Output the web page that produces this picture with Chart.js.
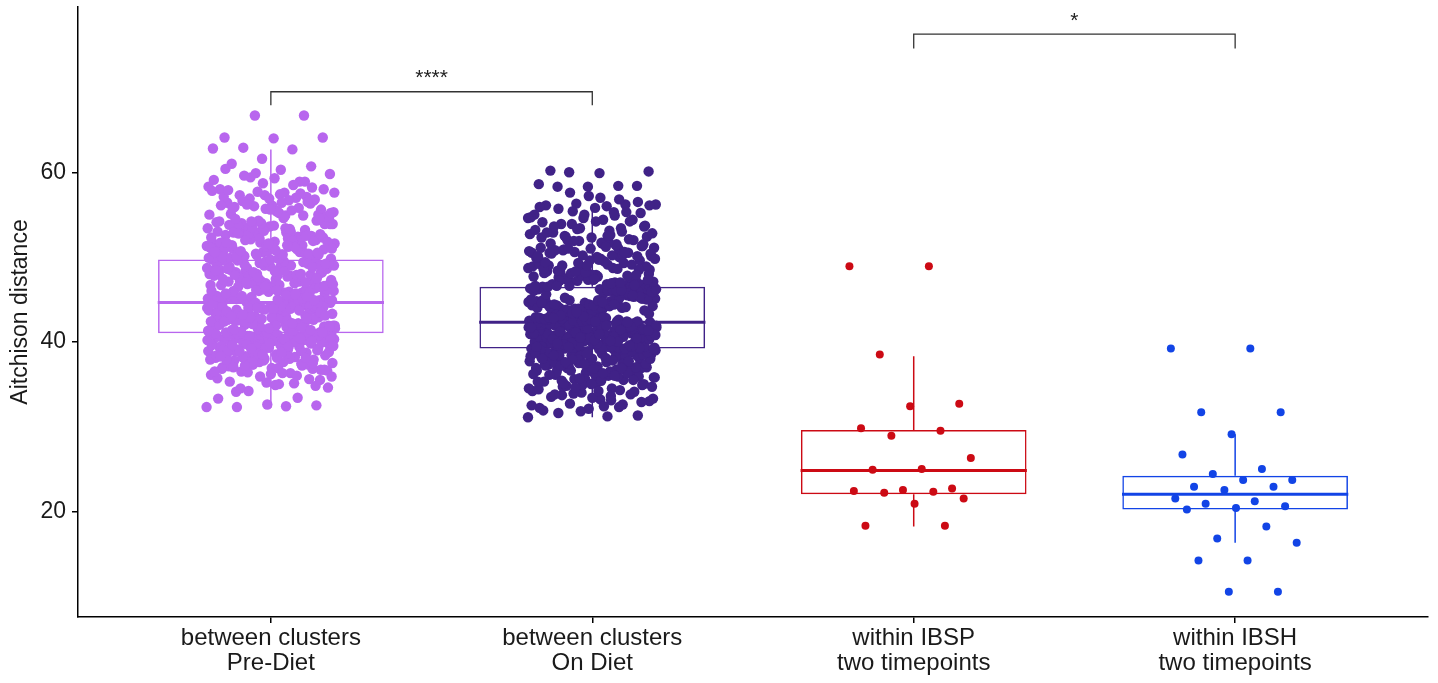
<!DOCTYPE html>
<html>
<head>
<meta charset="utf-8">
<script src="https://cdn.jsdelivr.net/npm/chart.js@4.4.1/dist/chart.umd.min.js"></script>
<style>
  html, body { margin: 0; background: #fff; }
  #wrap { width: 1438px; height: 683px; }
</style>
</head>
<body>
<div id="wrap"><canvas id="chart"></canvas></div>
<script>
// categories (two-line tick labels)
const categories = [
  ["between clusters", "Pre-Diet"],
  ["between clusters", "On Diet"],
  ["within IBSP", "two timepoints"],
  ["within IBSH", "two timepoints"]
];

// Aitchison distances
const preDiet = [
  32.3, 32.4, 32.3, 32.5, 32.6, 33.3, 33.4, 34.2, 34.6, 35.0, 35.3, 35.6, 35.9, 36.1,
  36.3, 36.5, 36.7, 36.9, 37.0, 37.2, 37.3, 37.5, 37.6, 37.8, 37.9, 38.0, 38.1, 38.2, 38.3, 38.4,
  38.5, 38.6, 38.7, 38.8, 38.9, 39.0, 39.1, 39.2, 39.3, 39.3, 39.4, 39.5, 39.6, 39.6, 39.7, 39.8, 39.9, 39.9, 40.0, 40.0,
  40.1, 40.1, 40.2, 40.2, 40.3, 40.3, 40.4, 40.4, 40.5, 40.5, 40.6, 40.6, 40.7, 40.7, 40.8, 40.8, 40.9, 40.9, 41.0, 41.0,
  41.0, 41.1, 40.2, 39.5, 38.9, 40.6, 40.8, 39.2, 37.4, 36.8,
  41.2, 41.5, 41.3, 42.0, 41.8, 42.6, 41.1, 43.1, 42.3, 44.0, 41.7, 42.9, 43.6, 41.4, 44.5, 42.2, 43.3, 41.9, 44.2, 42.7,
  43.8, 41.6, 42.4, 44.6, 43.0, 41.2, 42.8, 43.5, 44.3, 42.1, 41.9, 43.9, 42.5, 44.1, 41.3, 43.2, 42.0, 44.7, 41.7, 43.4,
  42.6, 44.4, 41.5, 43.7, 42.3, 41.1, 42.9, 44.0, 43.1, 41.8, 42.2, 44.6, 43.6, 41.4, 42.7, 43.9, 41.6, 44.2, 42.4, 43.3,
  41.0, 42.8, 44.5, 43.0, 41.9, 42.1, 43.8, 44.3, 41.3, 42.5,
  45.0, 47.2, 44.8, 46.1, 48.9, 45.5, 49.3, 46.7, 47.8, 45.2, 48.1, 46.4, 49.6, 45.8, 47.5, 44.9, 48.6, 46.0, 47.0, 49.0,
  45.3, 46.9, 48.3, 45.7, 47.4, 49.5, 46.2, 48.0, 45.1, 47.7, 46.5, 49.2, 45.9, 48.5, 47.1, 44.8, 46.8, 48.8, 45.4, 47.9,
  46.3, 49.7, 45.6, 47.3, 48.2, 46.6, 45.0, 49.4, 47.6, 46.0, 48.4, 45.2, 47.0, 46.9, 49.1, 45.7, 48.7, 46.2, 47.8, 45.5,
  49.6, 46.4, 48.0, 45.9, 47.2, 44.9, 48.9, 46.7, 47.5, 45.3,
  49.8, 50.3, 51.0, 49.9, 50.6, 51.5, 52.1, 50.1, 50.9, 51.8, 52.6, 53.2, 50.4, 51.3, 52.9, 53.7, 54.3, 50.7, 51.1, 52.4,
  53.5, 54.8, 55.2, 49.9, 50.2, 51.7, 52.3, 53.0, 54.0, 55.6, 56.1, 50.5, 51.4, 52.8, 53.9, 54.6, 55.9, 56.7, 57.3, 50.0,
  51.9, 53.3, 54.4, 55.4, 56.4, 57.1, 57.7, 58.3, 52.2, 53.6, 55.0, 56.9, 58.0, 58.9, 59.4, 59.8, 60.3, 61.0, 60.7, 61.6,
  62.8, 62.7, 62.9, 64.1, 64.0, 64.1, 66.7, 66.7, 57.6, 54.9,
  34.1, 34.8, 35.2, 35.7, 36.0, 36.4, 36.6, 36.9, 37.1, 37.3, 37.6, 37.9, 38.0, 34.5, 35.5, 36.2, 36.8, 37.4, 37.7, 35.9,
  36.3, 37.0, 37.5, 37.8, 36.5, 35.1, 37.2, 36.7, 34.9, 37.9,
  38.1, 39.4, 40.2, 38.6, 40.9, 39.0, 40.5, 38.3, 39.8, 40.7, 38.8, 40.0, 39.2, 40.4, 38.5, 39.6, 40.8, 38.2, 39.9, 40.1,
  39.1, 40.6, 38.7, 39.5, 40.3, 38.9, 40.9, 39.3, 38.4, 40.0, 39.7, 40.5, 38.1, 39.0, 40.7, 38.6, 40.2, 39.4, 38.9, 40.8,
  39.8, 38.3, 40.4, 39.2, 40.6, 38.7, 39.6, 40.1, 38.5, 40.9,
  41.3, 42.8, 44.1, 41.9, 43.4, 42.2, 44.6, 41.6, 43.0, 42.5, 44.3, 41.1, 43.7, 42.0, 44.0, 41.4, 42.7, 43.2, 44.5, 41.8,
  42.4, 43.9, 41.2, 43.5, 42.9, 44.2, 41.7, 42.1, 43.3, 44.7, 41.5, 42.6, 43.8, 41.0, 44.4, 42.3, 43.1, 41.9, 43.6, 42.8,
  44.0, 41.3, 42.5, 43.4, 44.6, 41.6, 42.0, 43.7, 42.9, 41.8, 44.2, 43.0, 41.4, 42.7, 44.5, 42.2, 43.2, 41.1, 43.9, 42.4,
  45.1, 47.4, 49.0, 45.8, 48.2, 46.3, 49.5, 45.4, 47.9, 46.8, 48.6, 45.0, 47.1, 49.2, 46.0, 48.4, 45.6, 47.6, 46.5, 49.7,
  45.2, 48.0, 46.9, 47.3, 49.4, 45.9, 48.8, 46.2, 47.8, 45.3, 49.1, 46.6, 48.3, 45.7, 47.0, 46.1, 48.7, 45.5, 49.6, 47.5,
  46.4, 48.1, 45.0, 47.7, 49.3, 46.7, 48.5, 45.8, 47.2, 46.0, 49.0, 45.4, 48.9, 46.3, 47.4, 45.1, 48.2, 46.8, 49.5, 47.9,
  44.9, 46.5, 48.4, 45.6, 47.0, 49.2, 46.1, 48.6, 45.3, 47.6,
  49.9, 51.2, 52.8, 50.3, 53.6, 51.7, 50.6, 52.1, 53.9, 50.0, 51.4, 52.5, 53.2, 50.8, 51.9, 50.2, 52.3, 53.7, 51.0, 50.5,
  52.9, 51.6, 53.4, 50.1, 52.0, 51.3, 53.0, 50.9, 52.6, 51.8, 49.8, 53.8, 50.4, 52.2, 51.1, 53.3, 50.7, 52.7, 51.5, 50.0,
  52.4, 53.5, 51.0, 50.3, 52.9, 51.9, 53.1, 50.6, 51.2, 52.0, 53.9, 50.8, 51.7, 52.5, 50.2, 53.4, 51.4, 52.8, 50.5, 51.6,
  54.2, 55.8, 56.9, 54.7, 57.4, 55.1, 56.3, 54.0, 57.8, 55.5, 56.6, 54.4, 55.9, 57.1, 54.9, 56.0, 55.3, 57.6, 54.5, 56.8,
  55.7, 54.1, 57.0, 56.2, 54.8, 55.4, 57.9, 56.5, 54.3, 55.0, 56.7, 57.3, 54.6, 55.6, 56.1, 57.5, 54.2, 55.2, 56.4, 55.8,
  58.2, 58.7, 59.1, 58.5, 59.6, 58.0, 59.3, 60.4, 58.9, 59.9
];
const onDiet = [
  31.1, 31.2, 31.6, 31.3, 32.1, 32.2, 32.3, 32.7, 33.0, 33.2, 33.5, 33.8, 34.0, 34.2, 34.5, 34.7, 34.9, 35.1, 35.3, 35.5,
  35.6, 35.8, 36.0, 36.1, 36.3, 36.4, 36.6, 36.7, 36.9, 37.0, 37.1, 37.3, 37.4, 37.5, 37.7, 37.8, 37.9, 38.0, 38.1, 38.2,
  38.3, 38.4, 38.5, 38.6, 38.7, 38.8, 38.9, 39.0, 39.1, 39.2, 35.0, 36.2, 37.2, 38.1, 38.8, 39.0, 37.6, 36.8, 38.4, 38.9,
  34.4, 35.9, 37.0, 38.6, 39.1, 37.9, 36.5, 38.3, 39.2, 33.6, 35.4, 36.9, 38.0, 38.7, 37.4,
  39.3, 40.8, 41.9, 39.7, 42.2, 40.1, 41.4, 39.5, 42.0, 40.6, 41.1, 39.9, 42.4, 40.3, 41.7, 39.4, 40.9, 42.1, 41.2, 39.8,
  40.4, 41.6, 42.3, 39.6, 40.7, 41.0, 41.8, 39.2, 40.2, 42.0, 41.3, 39.9, 40.5, 41.5, 42.2, 39.3, 40.0, 41.9, 40.8, 41.1,
  39.7, 42.4, 40.6, 41.4, 39.5, 40.3, 41.7, 42.1, 40.9, 39.8, 41.2, 40.1, 42.3, 39.6, 41.0, 40.4, 41.8, 39.4, 40.7, 41.6,
  42.0, 40.0, 41.3, 39.9, 40.5, 42.2, 41.5, 39.2, 40.2, 41.9, 40.8, 39.5, 42.4, 41.1, 40.6,
  42.6, 44.9, 43.3, 46.2, 42.9, 45.4, 43.8, 44.3, 46.0, 42.5, 45.1, 43.5, 44.6, 46.4, 43.0, 45.8, 44.1, 42.8, 45.6, 43.7,
  44.8, 46.3, 42.7, 45.0, 43.2, 44.4, 45.9, 43.9, 42.5, 46.1, 44.0, 45.3, 43.4, 44.7, 46.5, 42.9, 45.5, 43.6, 44.2, 45.7,
  43.1, 46.0, 44.5, 42.6, 45.2, 43.8, 44.9, 46.4, 43.3, 45.1, 42.8, 44.3, 45.9, 43.5, 46.2, 44.6, 42.7, 45.4, 43.9, 44.1,
  46.3, 43.0, 45.0, 44.8, 42.4, 45.6, 43.7, 46.5, 44.0, 43.2, 45.8, 42.9, 44.4, 45.3, 43.6,
  46.6, 47.0, 47.4, 46.8, 47.9, 48.3, 46.7, 47.2, 48.7, 49.1, 47.6, 46.9, 48.0, 49.5, 50.0, 47.1, 48.5, 49.8, 50.4, 46.6,
  47.8, 48.9, 50.2, 50.8, 51.3, 47.3, 48.1, 49.3, 50.6, 51.1, 51.7, 46.7, 47.5, 48.6, 49.9, 51.5, 52.0, 52.4, 47.7, 49.0,
  50.5, 51.9, 52.7, 53.1, 48.2, 49.6, 51.0, 52.3, 53.4, 53.9, 50.1, 51.6, 52.9, 54.4, 54.6, 55.0, 55.3, 52.5, 53.6, 55.8,
  56.1, 56.2, 56.3, 56.2, 56.0, 58.3, 58.4, 58.3, 58.6, 58.4, 60.0, 60.1, 59.9, 60.2, 54.2,
  31.8, 32.5, 33.1, 33.7, 32.9, 33.4, 31.9, 32.6, 33.9, 33.3, 32.4, 33.8,
  34.1, 35.6, 36.9, 38.2, 34.8, 37.4, 35.2, 38.7, 36.3, 37.9, 34.5, 36.0, 38.4, 35.9, 37.1, 39.0, 34.3, 36.6, 38.0, 35.4,
  37.6, 38.9, 34.9, 36.2, 37.8, 35.1, 38.5, 36.8, 37.3, 39.1, 34.6, 35.8, 38.1, 36.4, 37.0, 38.6, 35.3, 36.7, 37.5, 38.8,
  34.2, 36.1, 37.7, 35.7, 38.3, 36.5, 37.2, 39.2, 35.0, 38.0, 36.9, 37.9, 34.7, 36.3, 38.4, 35.5, 37.4, 38.7, 36.0, 37.6,
  39.4, 41.2, 40.5, 42.1, 39.8, 41.7, 40.1, 42.3, 39.6, 40.9, 41.4, 39.3, 42.0, 40.3, 41.0, 39.9, 41.8, 40.7, 42.4, 39.5,
  40.2, 41.5, 39.7, 42.2, 40.6, 41.1, 39.2, 40.8, 41.9, 40.0, 41.6, 39.4, 42.1, 40.4, 41.3, 39.8, 40.9, 42.3, 39.6, 41.7,
  40.1, 41.2, 39.3, 40.5, 42.0, 41.4, 39.9, 40.7, 41.8, 40.3, 39.5, 42.4, 41.0, 40.6, 39.7, 41.5, 40.2, 42.2, 39.2, 41.1,
  40.8, 41.9, 39.8, 40.4, 41.6, 42.3, 40.0, 39.4, 41.3, 40.9, 42.1, 39.6, 40.5, 41.7, 40.1,
  42.7, 45.3, 43.6, 44.9, 46.1, 42.5, 44.2, 45.7, 43.1, 46.4, 44.6, 42.9, 45.0, 43.8, 46.3, 44.0, 42.6, 45.5, 43.4, 44.7,
  46.0, 43.0, 45.9, 44.4, 42.8, 45.2, 43.7, 46.5, 44.1, 43.3, 45.6, 42.4, 44.8, 46.2, 43.5, 45.1, 44.3, 42.7, 45.8, 43.9,
  46.4, 44.5, 43.2, 45.4, 42.5, 44.0, 46.0, 43.6, 45.0, 44.9, 42.9, 45.7, 43.8, 46.3, 44.2, 43.1, 45.3, 42.6, 44.6, 46.1,
  43.4, 45.9, 44.7, 42.8, 45.5, 43.0, 46.5, 44.4, 45.2, 43.7, 42.4, 45.6, 44.1, 43.5, 46.2,
  46.8, 48.4, 50.1, 47.3, 49.2, 51.0, 46.6, 48.0, 49.7, 51.6, 47.6, 48.8, 50.5, 46.9, 49.0, 51.3, 47.9, 48.6, 50.3, 51.9,
  47.1, 49.5, 50.8, 46.7, 48.2, 49.9, 51.4, 47.5, 48.9, 50.0, 46.5, 47.8, 49.3, 50.7, 51.8, 47.2, 48.5, 49.6, 51.1, 47.0,
  48.1, 50.4, 51.7, 46.8, 49.1, 50.2, 47.7, 48.7, 50.9, 51.5, 47.4, 49.4, 50.6, 48.3, 49.8, 51.2, 46.6, 47.9, 49.0, 50.1,
  48.6, 51.0, 47.3, 49.7, 50.5,
  52.1, 53.4, 54.7, 52.6, 53.9, 55.2, 52.3, 54.1, 53.0, 55.4, 52.8, 54.4, 53.6, 52.0, 55.0, 53.2, 54.9, 52.4, 53.7, 54.2,
  52.9, 55.3, 53.3, 54.6, 52.5,
  55.7, 56.5, 57.2, 55.9, 56.8, 57.6, 56.1, 57.0
];
const withinIBSP = [
  48.9, 48.9, 38.5, 32.7, 32.4, 29.8, 29.5, 28.9, 26.3, 25.0,
  24.9, 22.7, 22.5, 22.4, 22.3, 22.2, 21.5, 20.9, 18.3, 18.3
];
const withinIBSH = [
  39.2, 39.2, 31.7, 31.7, 29.1, 26.7, 25.0, 24.4, 23.7, 23.7, 22.9, 22.9, 22.5,
  21.5, 21.2, 20.9, 20.6, 20.4, 20.2, 18.2, 16.8, 16.3, 14.2, 14.2, 10.5, 10.5
];
const groups = [preDiet, onDiet, withinIBSP, withinIBSH];

// box statistics
const whiskerLow  = [32.2, 31.1, 18.2, 16.3];
const q1          = [41.0, 39.2, 22.0, 20.2];
const median      = [44.65, 42.3, 24.8, 22.0];
const q3          = [49.7, 46.5, 29.6, 24.2];
const whiskerHigh = [62.7, 56.2, 38.3, 29.1];

const yTicks = [20, 40, 60];

// significance brackets
const bracketFrom  = [1, 3];
const bracketTo    = [2, 4];
const bracketTop   = [69.5, 76.3];
const bracketFoot  = [67.9, 74.6];
const bracketLabel = ["****", "*"];
const bracketLabelY = [70.4, 77.1];

const colors = ["#b866ee", "#402287", "#cc0a14", "#1244e6"];
const dotRadius = [5.2, 5.2, 4, 4];
const BOX_HALF = 0.352;
const JITTER = 0.2;
const FONT = "'Liberation Sans', Arial, Helvetica, sans-serif";

// deterministic horizontal spread (golden-ratio sequence)
function jitter(i) {
  return ((i * 0.6180339887) % 1 - 0.5) * 2 * JITTER;
}

const datasets = [];

groups.forEach((vals, g) => {
  const cx = g + 1;
  datasets.push({
    type: "scatter",
    order: 0,
    data: vals.map((v, i) => ({ x: cx + jitter(i), y: v })),
    backgroundColor: colors[g],
    borderWidth: 0,
    pointRadius: dotRadius[g],
    pointHoverRadius: dotRadius[g]
  });
  datasets.push({
    type: "line",
    order: 1,
    data: [{ x: cx - BOX_HALF, y: median[g] }, { x: cx + BOX_HALF, y: median[g] }],
    borderColor: colors[g],
    borderWidth: 3,
    pointRadius: 0
  });
  datasets.push({
    type: "line",
    order: 3,
    data: [
      { x: cx, y: whiskerHigh[g] }, { x: cx, y: q3[g] }, { x: cx, y: null },
      { x: cx, y: q1[g] }, { x: cx, y: whiskerLow[g] }
    ],
    spanGaps: false,
    borderColor: colors[g],
    borderWidth: 1.5,
    pointRadius: 0
  });
});

// the boxes
datasets.push({
  type: "bar",
  order: 2,
  data: q1.map((v, g) => ({ x: g + 1, y: [v, q3[g]] })),
  backgroundColor: "rgba(0,0,0,0)",
  borderColor: colors,
  borderWidth: 1.5,
  borderSkipped: false,
  categoryPercentage: 0.702,
  barPercentage: 1
});

// brackets
bracketFrom.forEach((a, k) => {
  const b = bracketTo[k];
  datasets.push({
    type: "line",
    order: 0,
    data: [
      { x: a, y: bracketFoot[k] }, { x: a, y: bracketTop[k] },
      { x: b, y: bracketTop[k] }, { x: b, y: bracketFoot[k] }
    ],
    borderColor: "#333",
    borderWidth: 1.3,
    borderJoinStyle: "miter",
    pointRadius: 0
  });
});

const starLabels = {
  id: "starLabels",
  afterDatasetsDraw(chart) {
    const { ctx, scales: { x, y } } = chart;
    ctx.save();
    ctx.fillStyle = "#222";
    ctx.font = "21px " + FONT;
    ctx.textAlign = "center";
    ctx.textBaseline = "alphabetic";
    bracketLabel.forEach((t, k) => {
      const px = (x.getPixelForValue(bracketFrom[k]) + x.getPixelForValue(bracketTo[k])) / 2;
      ctx.fillText(t, px, y.getPixelForValue(bracketLabelY[k]));
    });
    ctx.restore();
  }
};

new Chart(document.getElementById("chart"), {
  type: "scatter",
  data: { datasets },
  plugins: [starLabels],
  options: {
    responsive: true,
    maintainAspectRatio: false,
    animation: false,
    events: [],
    layout: { padding: { left: 0, right: 10, top: 7, bottom: 0 } },
    plugins: { legend: { display: false }, tooltip: { enabled: false } },
    scales: {
      x: {
        type: "linear",
        min: 0.4,
        max: 4.6,
        offset: false,
        afterBuildTicks: (s) => { s.ticks = categories.map((c, i) => ({ value: i + 1 })); },
        afterFit: (s) => { s.height = 66; s.paddingLeft = 0; s.paddingRight = 0; },
        ticks: {
          autoSkip: false,
          maxRotation: 0,
          padding: 3,
          color: "#1a1a1a",
          font: { family: FONT, size: 24, lineHeight: "25px" },
          callback: (v) => categories[Math.round(v) - 1]
        },
        grid: { display: true, drawOnChartArea: false, drawTicks: true, tickLength: 6, color: "#000", lineWidth: 1.5, offset: false },
        border: { display: true, color: "#000", width: 1.5 }
      },
      y: {
        type: "linear",
        min: 7.53,
        max: 79.5,
        afterBuildTicks: (s) => { s.ticks = yTicks.map(v => ({ value: v })); },
        afterFit: (s) => { s.width = 78; s.paddingTop = 0; s.paddingBottom = 0; },
        ticks: {
          padding: 6,
          color: "#1a1a1a",
          font: { family: FONT, size: 23 }
        },
        grid: { display: true, drawOnChartArea: false, drawTicks: true, tickLength: 6, color: "#000", lineWidth: 1.5 },
        border: { display: true, color: "#000", width: 1.5 },
        title: {
          display: true,
          text: "Aitchison distance",
          color: "#1a1a1a",
          font: { family: FONT, size: 23 },
          padding: { top: 7, bottom: 0 }
        }
      }
    }
  }
});
</script>
</body>
</html>
